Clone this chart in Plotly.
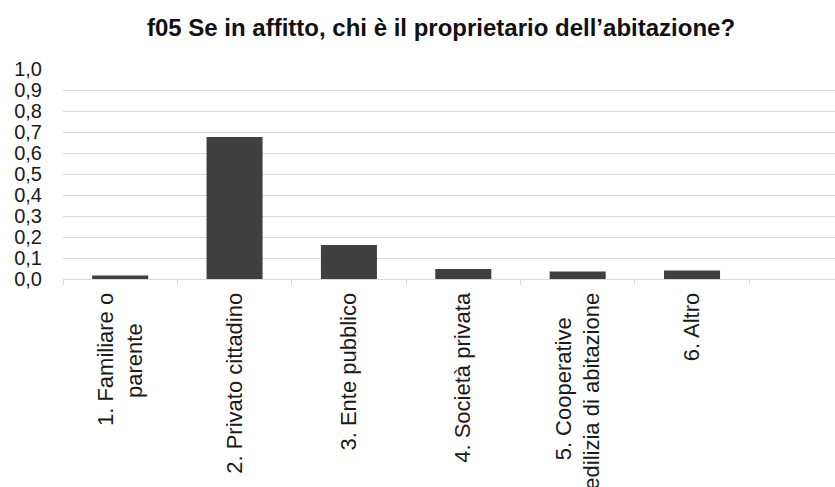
import plotly.graph_objects as go

title_text = "f05 Se in affitto, chi è il proprietario dell’abitazione?"
NB = "\u00a0"
categories = [
    "1. Familiare o<br>parente" + NB * 5,
    "2. Privato cittadino",
    "3. Ente pubblico",
    "4. Società privata",
    "5. Cooperative" + NB * 4 + "<br>edilizia di abitazione",
    "6. Altro",
    " ",
]
values = [0.017, 0.676, 0.162, 0.048, 0.036, 0.041, None]
y_ticks = [0.0, 0.1, 0.2, 0.3, 0.4, 0.5, 0.6, 0.7, 0.8, 0.9, 1.0]

FONT = "Liberation Sans, Arial, sans-serif"

fig = go.Figure(
    go.Bar(
        x=categories,
        y=values,
        width=0.49,
        marker=dict(color="#404040", line=dict(width=0)),
        hoverinfo="x+y",
    )
)

fig.update_layout(
    width=835,
    height=487,
    paper_bgcolor="white",
    plot_bgcolor="white",
    separators=", ",
    margin=dict(l=63, r=0, t=69, b=208),
    showlegend=False,
    font=dict(family=FONT, size=20, color="#1a1a1a"),
    title=dict(
        text="<b>" + title_text + "</b>",
        x=441 / 835,
        xanchor="center",
        y=1 - 28 / 487,
        yanchor="middle",
        font=dict(family=FONT, size=24, color="#111111"),
    ),
)

fig.update_xaxes(
    type="category",
    categoryorder="array",
    categoryarray=categories,
    range=[-0.5, 6.25],
    automargin=False,
    tickangle=-90,
    tickson="boundaries",
    ticks="outside",
    ticklen=5,
    tickcolor="#d9d9d9",
    ticklabelstandoff=4,
    showline=True,
    linecolor="#d9d9d9",
    linewidth=1,
    showgrid=False,
    tickfont=dict(family=FONT, size=22, color="#1a1a1a"),
)

fig.update_yaxes(
    range=[0, 1.0],
    tickvals=y_ticks,
    tickformat=".1f",
    automargin=False,
    showgrid=True,
    gridcolor="#d9d9d9",
    gridwidth=1,
    zeroline=False,
    showline=False,
    ticks="",
    ticklabelstandoff=20,
    tickfont=dict(family=FONT, size=20, color="#1a1a1a"),
)

fig.write_html(
    "out.html",
    config={"displayModeBar": False},
    post_script="document.body.style.margin='0';document.body.style.overflow='hidden';",
)
